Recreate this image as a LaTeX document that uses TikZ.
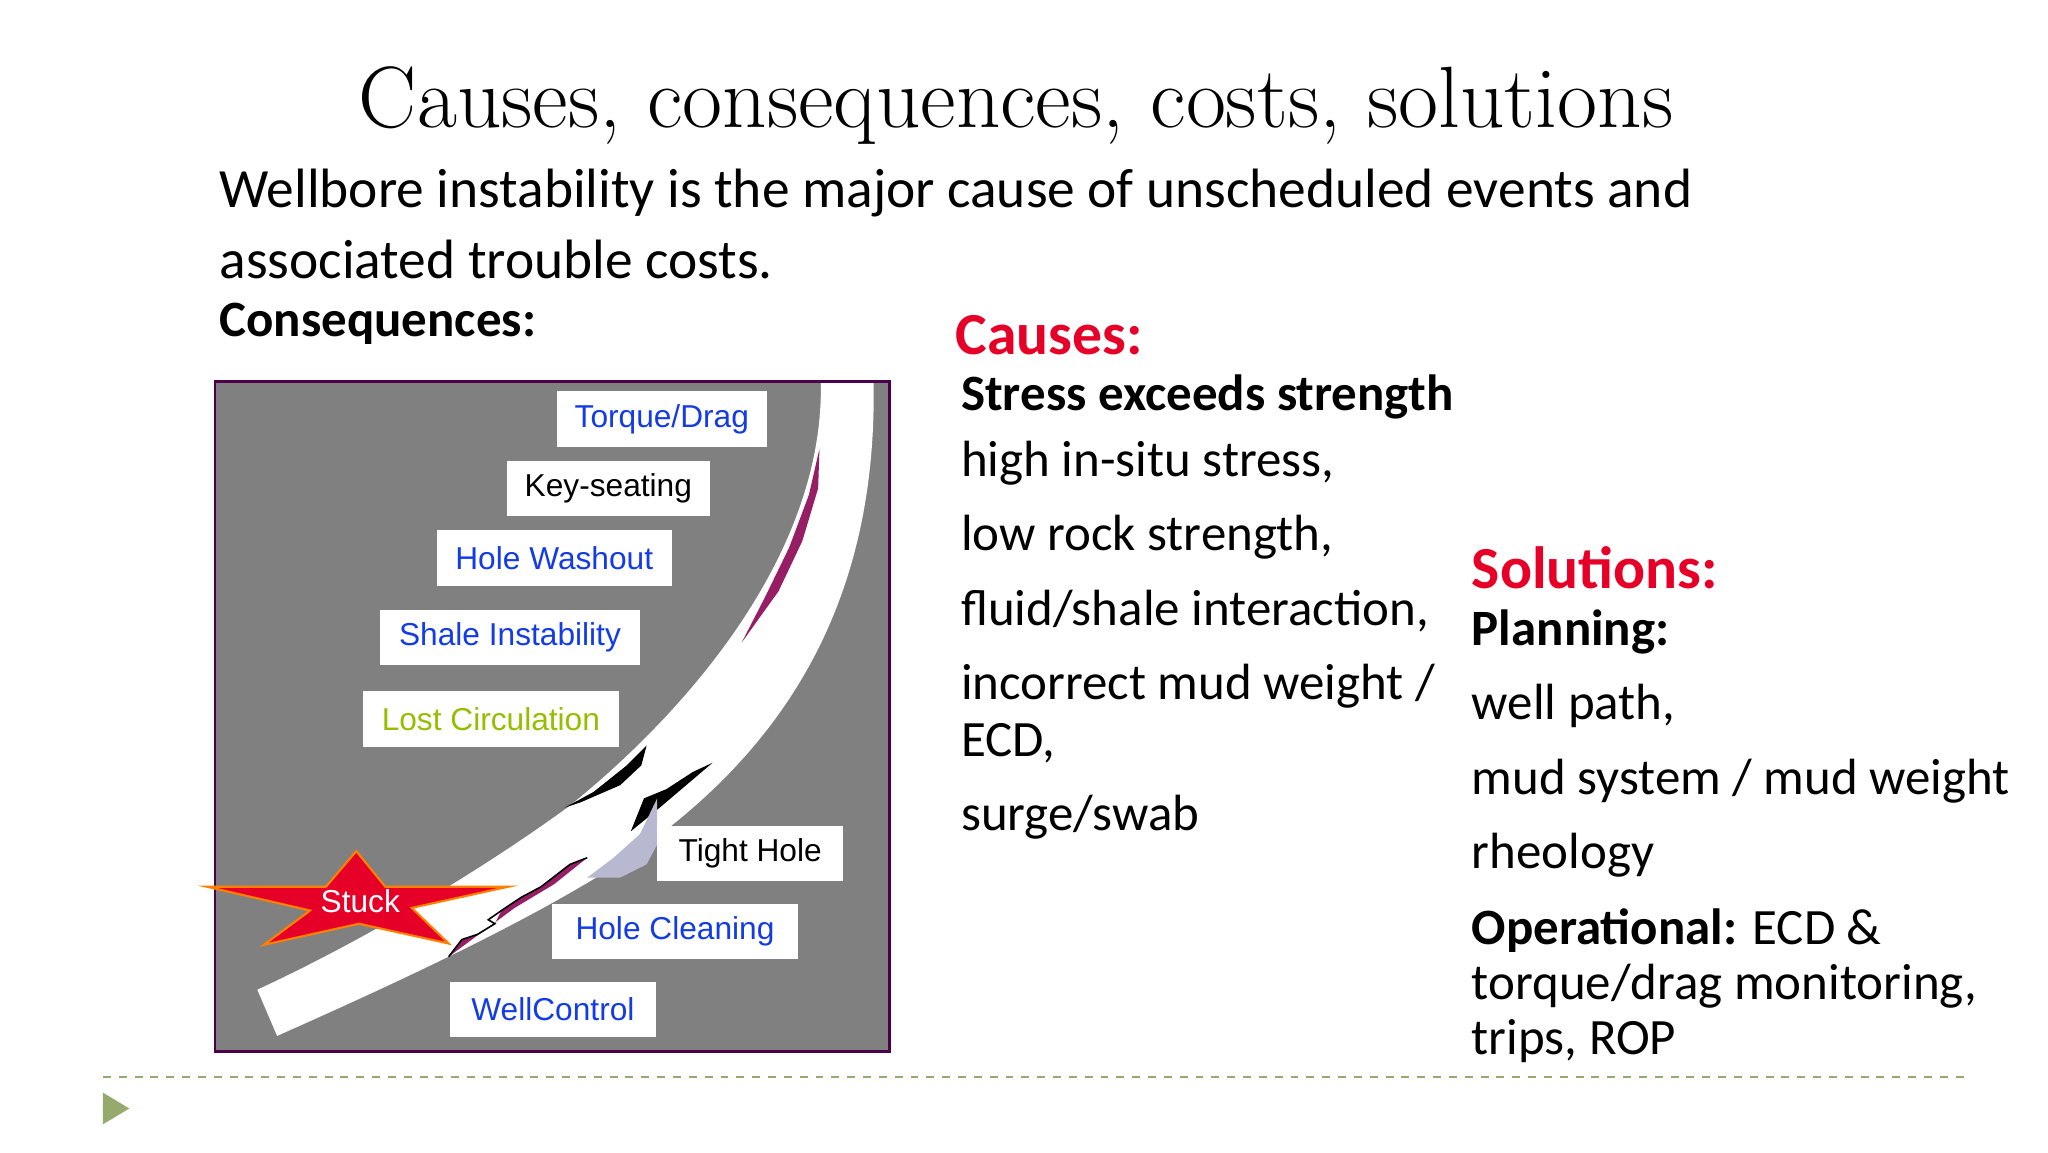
\documentclass[tikz,border=0pt]{standalone}
\usepackage{fontspec}
\setmainfont{Carlito}
\newfontfamily\arialf{Liberation Sans}
\newfontfamily\lmr{Latin Modern Roman}
\definecolor{lblue}{RGB}{20,60,230}
\definecolor{lgreen}{RGB}{150,190,0}
\definecolor{sred}{RGB}{230,0,40}
\definecolor{mag}{RGB}{150,30,100}
\definecolor{olive}{RGB}{150,170,110}
\begin{document}
\begin{tikzpicture}[x=0.5pt,y=-0.5pt,
  lbl/.style={fill=white,inner sep=0pt,minimum height=21pt,font=\arialf\fontsize{12}{14}\selectfont},
  txt/.style={anchor=west,inner sep=0pt,font=\fontsize{19.3}{23}\selectfont},
  txtb/.style={txt,font=\bfseries\fontsize{19.3}{23}\selectfont},
  hd/.style={anchor=west,inner sep=0pt,font=\bfseries\fontsize{22.6}{26}\selectfont,text=sred}]
\useasboundingbox (0,0) rectangle (1552,873);
\fill[white] (0,0) rectangle (1552,873);
% diagram box
\fill[gray] (163,289) rectangle (674,797);
\fill[white] (622,289) .. controls (625,420) and (520,540) .. (430,612) .. controls (350,670) and (260,720) .. (195,750)
  -- (210,785) .. controls (300,745) and (420,690) .. (490,640) .. controls (600,560) and (665,450) .. (662,289) -- cycle;
\draw[violet!60!black,line width=1pt] (163,289) rectangle (674,797);
% damage
\fill[mag] (621,340) -- (613,375) -- (598,415) -- (580,452) -- (562,487) -- (590,448) -- (608,410) -- (620,370) -- cycle;
\fill[black] (428,612) -- (450,600) -- (475,580) -- (490,565) -- (486,580) -- (470,595) -- (440,608) -- cycle;
\fill[black] (478,630) -- (488,605) -- (505,598) -- (525,585) -- (540,578) -- (520,595) -- (500,612) -- cycle;
\fill[gray!40!white!90!blue] (498,605) -- (498,640) -- (490,655) -- (470,665) -- (445,665) -- (465,650) -- (485,632) -- cycle;
\fill[mag] (340,725) -- (350,712) -- (362,708) -- (375,700) -- (380,690) -- (395,680) -- (410,672) -- (432,655) -- (445,650) -- (420,670) -- (390,688) -- cycle;
\draw[black,line width=0.6pt] (340,725) -- (350,712) -- (362,708) -- (375,700) -- (370,697) -- (380,690) -- (395,680) -- (410,672) -- (432,655) -- (445,650);
% star
\filldraw[fill=sred,draw=orange,line width=0.8pt] (157,672) -- (247,672) -- (270,645) -- (292,672) -- (385,672) -- (312,688) -- (340,715) -- (272,700) -- (200,716) -- (235,690) -- cycle;
\node[text=white,inner sep=0pt,font=\arialf\fontsize{12}{14}\selectfont] (stuck) at (273,683) {Stuck};
% labels
\node[lbl,text=lblue,minimum width=79.5pt] (td) at (501.5,317.5) {Torque/Drag};
\node[lbl,text=black,minimum width=77pt] (ks) at (461,370) {Key-seating};
\node[lbl,text=lblue,minimum width=89pt] (hw) at (420,423) {Hole Washout};
\node[lbl,text=lblue,minimum width=98.5pt] (si) at (386.5,483) {Shale Instability};
\node[lbl,text=lgreen,minimum width=97pt] (lc) at (372,545) {Lost Circulation};
\node[lbl,text=black,minimum width=70.5pt] (th) at (568.5,647) {Tight Hole};
\node[lbl,text=lblue,minimum width=93.5pt] (hc) at (511.5,706) {Hole Cleaning};
\node[lbl,text=lblue,minimum width=78pt] (wc) at (419,765) {WellControl};
% texts
\node[inner sep=0pt,font=\lmr\fontsize{33}{36}\selectfont] (title) at (770,80) {Causes, consequences, costs, solutions};
\node[txt,font=\fontsize{21}{25}\selectfont] (l1) at (166,146) {Wellbore instability is the major cause of unscheduled events and};
\node[txt,font=\fontsize{21}{25}\selectfont] (l2) at (166,197) {associated trouble costs.};
\node[txtb] (cons) at (166,245) {Consequences:};
\node[hd] (causes) at (724,254) {Causes:};
\node[txtb] (c0) at (728,301) {Stress exceeds strength};
\node[txt] (c1) at (728,351) {high in-situ stress,};
\node[txt] (c2) at (728,407) {low rock strength,};
\node[txt] (c3) at (728,463) {fluid/shale interaction,};
\node[txt] (c4) at (728,520) {incorrect mud weight /};
\node[txt] (c5) at (728,563) {ECD,};
\node[txt] (c6) at (728,619) {surge/swab};
\node[hd] (sol) at (1115,430) {Solutions:};
\node[txtb] (s0) at (1115,479) {Planning:};
\node[txt] (s1) at (1115,535) {well path,};
\node[txt] (s2) at (1115,592) {mud system / mud weight};
\node[txt] (s3) at (1115,648) {rheology};
\node[txt] (s4) at (1115,705) {\textbf{Operational:} ECD \&};
\node[txt] (s5) at (1115,747) {torque/drag monitoring,};
\node[txt] (s6) at (1115,789) {trips, ROP};
% footer
\draw[olive,dashed,line width=0.8pt] (78,816) -- (1490,816);
\fill[olive] (78,828) -- (98,840) -- (78,852) -- cycle;
\end{tikzpicture}
\end{document}
